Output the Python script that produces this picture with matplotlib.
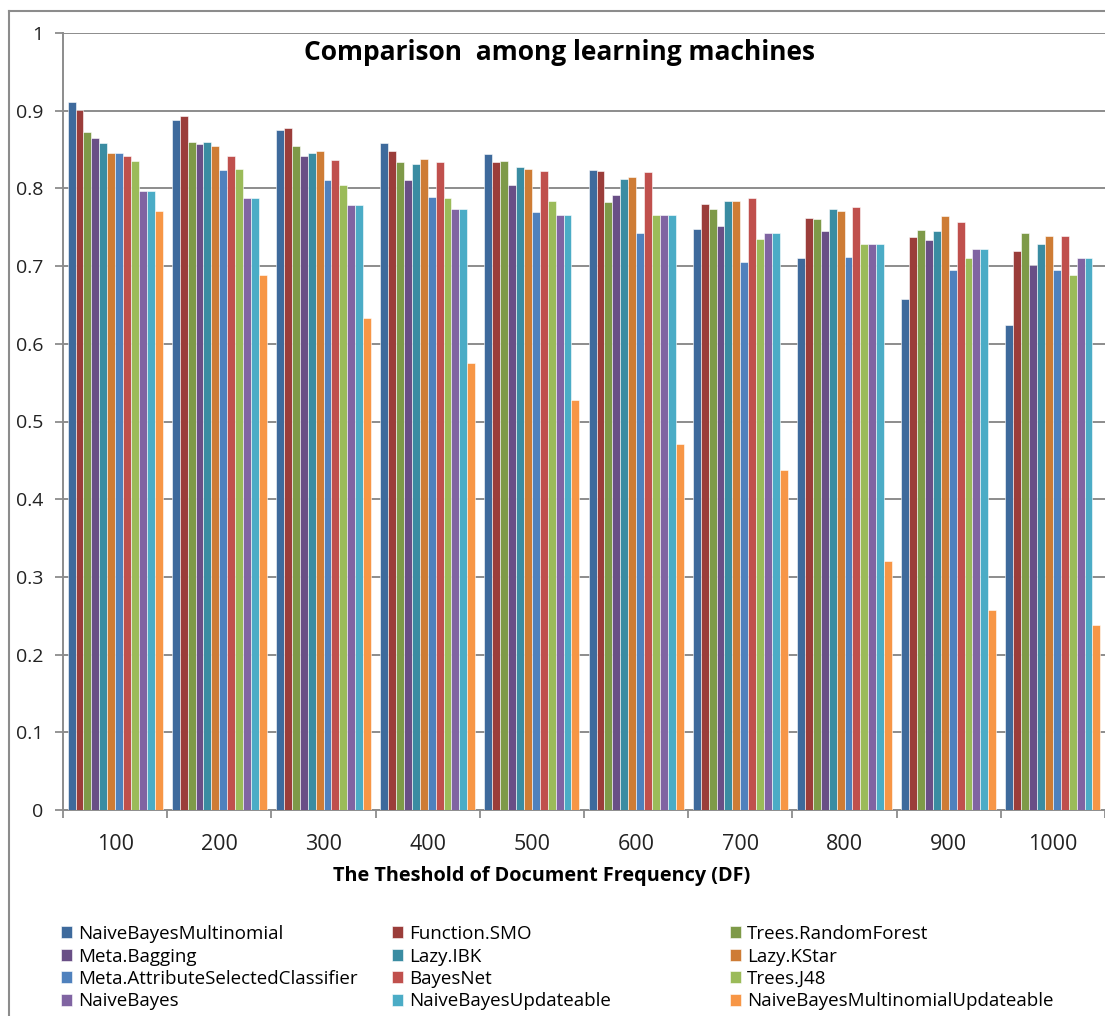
import numpy as np
import matplotlib
matplotlib.use("Agg")
import matplotlib.pyplot as plt
from matplotlib.patches import Patch
from matplotlib.lines import Line2D

plt.rcParams["font.family"] = ["Open Sans", "DejaVu Sans"]

thresholds = ["100", "200", "300", "400", "500", "600", "700", "800", "900", "1000"]

naive_bayes_multinomial = [0.911, 0.888, 0.875, 0.858, 0.844, 0.824, 0.748, 0.710, 0.658, 0.624]
function_smo            = [0.901, 0.893, 0.878, 0.848, 0.834, 0.822, 0.780, 0.762, 0.737, 0.720]
trees_random_forest     = [0.873, 0.860, 0.855, 0.834, 0.835, 0.783, 0.773, 0.760, 0.747, 0.742]
meta_bagging            = [0.865, 0.857, 0.842, 0.811, 0.804, 0.791, 0.752, 0.745, 0.734, 0.702]
lazy_ibk                = [0.858, 0.860, 0.845, 0.832, 0.827, 0.812, 0.784, 0.773, 0.745, 0.729]
lazy_kstar              = [0.845, 0.855, 0.848, 0.838, 0.825, 0.815, 0.784, 0.771, 0.765, 0.739]
meta_attr_selected      = [0.845, 0.824, 0.811, 0.789, 0.770, 0.742, 0.705, 0.712, 0.695, 0.695]
bayes_net               = [0.842, 0.842, 0.837, 0.834, 0.822, 0.821, 0.788, 0.776, 0.757, 0.739]
trees_j48               = [0.835, 0.825, 0.804, 0.788, 0.784, 0.766, 0.735, 0.728, 0.710, 0.689]
naive_bayes             = [0.797, 0.788, 0.779, 0.774, 0.766, 0.766, 0.742, 0.728, 0.722, 0.710]
naive_bayes_updateable  = [0.797, 0.788, 0.779, 0.774, 0.766, 0.766, 0.742, 0.728, 0.722, 0.710]
nbm_updateable          = [0.771, 0.689, 0.633, 0.575, 0.528, 0.471, 0.438, 0.320, 0.257, 0.238]

series_names = ["NaiveBayesMultinomial", "Function.SMO", "Trees.RandomForest",
                "Meta.Bagging", "Lazy.IBK", "Lazy.KStar",
                "Meta.AttributeSelectedClassifier", "BayesNet", "Trees.J48",
                "NaiveBayes", "NaiveBayesUpdateable", "NaiveBayesMultinomialUpdateable"]
series_vals = [naive_bayes_multinomial, function_smo, trees_random_forest,
               meta_bagging, lazy_ibk, lazy_kstar,
               meta_attr_selected, bayes_net, trees_j48,
               naive_bayes, naive_bayes_updateable, nbm_updateable]
colores = ["#3E6A9C", "#9B3D3A", "#7E9A48", "#694F86", "#3A8CA2", "#CE7C35",
           "#4F81BD", "#C0504D", "#9BBB59", "#8064A2", "#4BACC6", "#F79646"]

W, H = 1105, 1016
fig = plt.figure(figsize=(W / 100, H / 100), dpi=100)
ax = fig.add_axes([63 / W, 1 - 810 / H, 1042 / W, 777 / H])

n = len(series_names)
x = np.arange(len(thresholds))
width = 0.91 / n
for i, (vals, c) in enumerate(zip(series_vals, colores)):
    ax.bar(x - 0.455 + width * (i + 0.5), vals, width, color=c,
           edgecolor="#ffffff", linewidth=0.4, zorder=3)

ax.set_xlim(-0.5, len(thresholds) - 0.5)
ax.set_ylim(0, 1)
ax.set_yticks(np.arange(0, 1.01, 0.1))
ax.set_yticklabels([f"{v:g}" for v in np.arange(0, 1.01, 0.1).round(1)])
ax.yaxis.grid(True, color="#8c8c8c", linewidth=1.4, zorder=0)

ax.set_xticks(x)
ax.set_xticklabels(thresholds)
ax.set_xticks(np.arange(-0.5, len(thresholds)), minor=True)
ax.tick_params(axis="x", which="major", length=0, pad=17, labelsize=15.5, labelcolor="#222222")
ax.tick_params(axis="x", which="minor", length=6, width=1.3, color="#8c8c8c", direction="out")
ax.tick_params(axis="y", length=6, width=1.3, color="#8c8c8c", pad=8, labelsize=14,
               labelcolor="#222222")

for s in ["top", "right"]:
    ax.spines[s].set_visible(False)
for s in ["left", "bottom"]:
    ax.spines[s].set_color("#8c8c8c")
    ax.spines[s].set_linewidth(1.4)

fig.text(560 / W, 1 - 52 / H, "Comparison  among learning machines",
         ha="center", va="center", fontsize=19, fontweight="bold")
fig.text(542 / W, 1 - 876 / H, "The Theshold of Document Frequency (DF)",
         ha="center", va="center", fontsize=14.3, fontweight="bold")

# legend: three columns, filled row by row
col_x = [61, 392, 730]
for col in range(3):
    handles = [Patch(facecolor=colores[i], edgecolor="white", linewidth=0.4)
               for i in range(col, n, 3)]
    labels = [series_names[i] for i in range(col, n, 3)]
    fig.legend(handles, labels, loc="upper left", bbox_to_anchor=(col_x[col] / W, 1 - 925 / H),
               frameon=False, fontsize=13.5, handlelength=0.6, handleheight=0.6,
               handletextpad=0.3, labelspacing=0.24, borderaxespad=0, borderpad=0)

# outer chart frame
fig.add_artist(Line2D([9 / W, 9 / W], [0, 1 - 11 / H], color="#8c8c8c", linewidth=1.5))
fig.add_artist(Line2D([9 / W, 1], [1 - 11 / H, 1 - 11 / H], color="#8c8c8c", linewidth=1.5))

fig.savefig("out.png", dpi=100)
